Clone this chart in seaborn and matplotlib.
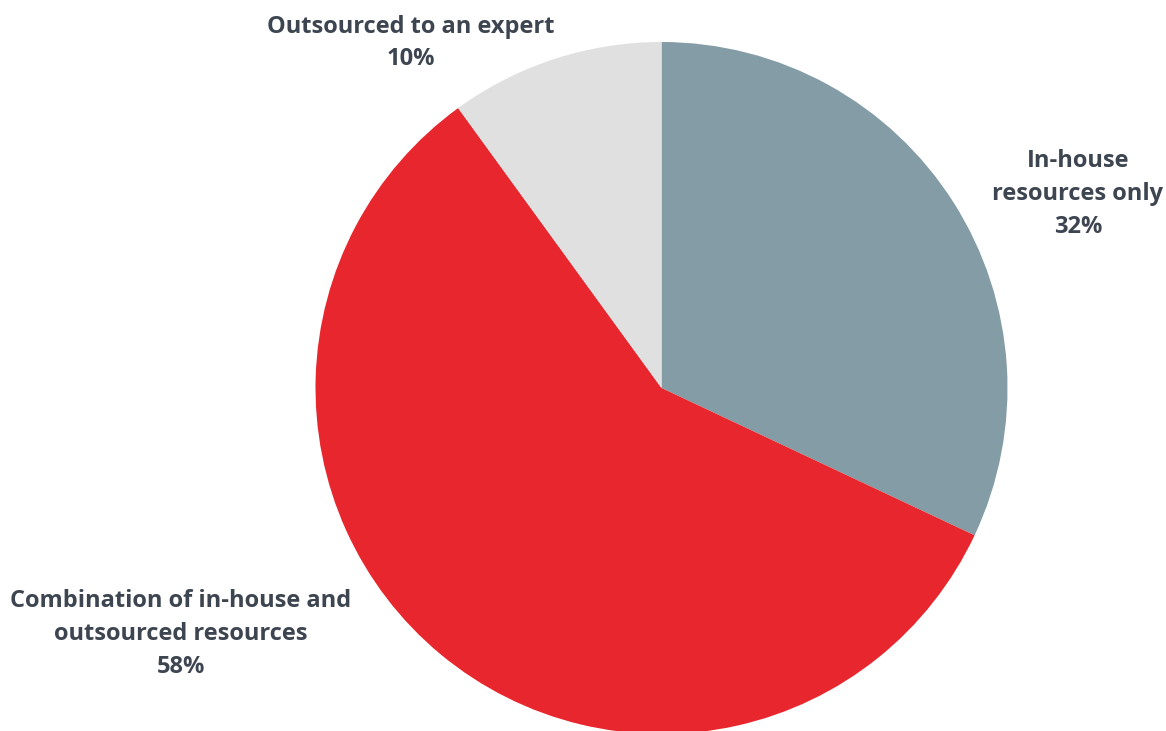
import matplotlib
matplotlib.use("Agg")
import matplotlib.pyplot as plt
import seaborn as sns

# Survey breakdown: how the work is resourced
categories = ["In-house\nresources only",
              "Combination of in-house and\noutsourced resources",
              "Outsourced to an expert"]
shares = [32, 58, 10]
colors = ["#839CA5", "#E8262D", "#E0E0E0"]

sns.set_theme(style="white")
plt.rcParams["font.family"] = ["Open Sans", "DejaVu Sans"]

W, H = 1166, 731
fig = plt.figure(figsize=(W / 100, H / 100), dpi=100)
ax = fig.add_axes([0, 0, 1, 1])

cx, cy, r = 661.5, H - 388, 346
ax.pie(shares, colors=colors, startangle=90, counterclock=False,
       center=(cx, cy), radius=r, frame=True,
       wedgeprops=dict(linewidth=0))
ax.set_xlim(0, W)
ax.set_ylim(0, H)
ax.set_aspect("equal")
ax.axis("off")

# Label anchors (centre of each text block, in pixels from the top)
label_pos = [(1078, 194), (181, 634), (411, 43)]
text_color = "#3D4550"
for name, val, (x, y) in zip(categories, shares, label_pos):
    ax.text(x, H - y, f"{name}\n{val}%", ha="center", va="center",
            fontsize=17, fontweight="bold", color=text_color,
            linespacing=1.48, multialignment="center")

fig.savefig("out.png", dpi=100)
